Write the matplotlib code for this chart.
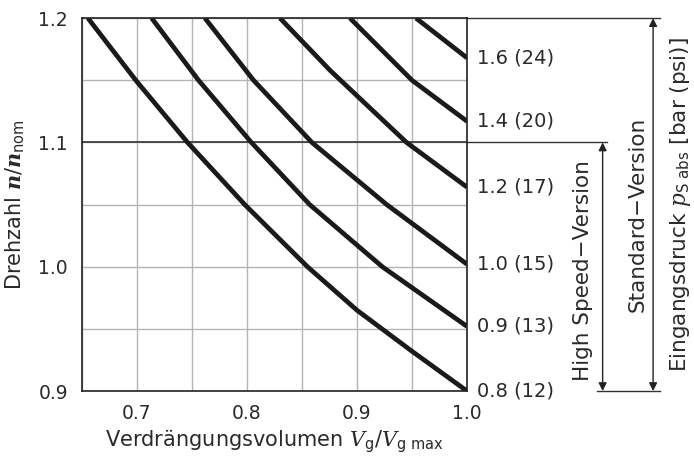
import matplotlib.pyplot as plt
import matplotlib.transforms as mtransforms

plt.rcParams['font.family'] = ['DejaVu Sans']
plt.rcParams['mathtext.fontset'] = 'custom'
plt.rcParams['mathtext.rm'] = 'DejaVu Sans'
plt.rcParams['mathtext.it'] = 'DejaVu Serif:italic'
plt.rcParams['mathtext.bf'] = 'DejaVu Serif:italic:bold'

# Curves: Vg/Vg_max -> n/n_nom, one per inlet pressure
labels = ['0.8 (12)', '0.9 (13)', '1.0 (15)', '1.2 (17)', '1.4 (20)', '1.6 (24)']
curve_x = [
    [0.6555, 0.699, 0.746, 0.798, 0.855, 0.900, 0.950, 1.0],
    [0.7134, 0.756, 0.804, 0.857, 0.923, 1.0],
    [0.7618, 0.806, 0.859, 0.927, 1.0],
    [0.830, 0.8755, 0.945, 1.0],
    [0.8936, 0.950, 1.0],
    [0.9536, 1.0],
]
curve_y = [
    [1.2, 1.15, 1.1, 1.05, 1.0, 0.965, 0.932, 0.9],
    [1.2, 1.15, 1.1, 1.05, 1.0, 0.952],
    [1.2, 1.15, 1.1, 1.05, 1.002],
    [1.2, 1.158, 1.1, 1.064],
    [1.2, 1.15, 1.117],
    [1.2, 1.168],
]
x_ticks = [0.65, 0.7, 0.75, 0.8, 0.85, 0.9, 0.95, 1.0]
x_ticklabels = ['', '0.7', '', '0.8', '', '0.9', '', '1.0']
y_ticks = [0.9, 0.95, 1.0, 1.05, 1.1, 1.15, 1.2]
y_ticklabels = ['0.9', '', '1.0', '', '1.1', '', '1.2']

fig = plt.figure(figsize=(6.94, 4.65), dpi=100)
ax = fig.add_axes([0.118, 0.159, 0.555, 0.802])

txt = '#2a2a2a'
ax.set_xlim(0.65, 1.0)
ax.set_ylim(0.9, 1.2)
ax.set_xticks(x_ticks)
ax.set_xticklabels(x_ticklabels)
ax.set_yticks(y_ticks)
ax.set_yticklabels(y_ticklabels)
ax.tick_params(length=0, labelsize=13.5, colors=txt)
ax.tick_params(axis='x', pad=9)
ax.tick_params(axis='y', pad=10)
ax.grid(True, color='#b4b4b4', lw=1.0)
ax.set_axisbelow(True)
for s in ax.spines.values():
    s.set_color('#222222')
    s.set_linewidth(1.2)
ax.axhline(1.1, color='#333333', lw=1.2)

for xs, ys in zip(curve_x, curve_y):
    ax.plot(xs, ys, color='#1a1a1a', lw=3.4, solid_capstyle='butt',
            solid_joinstyle='round')

trans = mtransforms.blended_transform_factory(ax.transAxes, ax.transData)
for ys, lab in zip(curve_y, labels):
    ax.text(1.026, ys[-1], lab, transform=trans, ha='left', va='center',
            fontsize=14, color=txt)

# lines and arrows on the right
ax.plot([1.0, 1.364], [1.1, 1.1], transform=trans, color='#333333', lw=1.0, clip_on=False)
ax.plot([1.0, 1.501], [1.2, 1.2], transform=trans, color='#333333', lw=1.0, clip_on=False)
ax.plot([1.338, 1.501], [0.9, 0.9], transform=trans, color='#333333', lw=1.0, clip_on=False)
for xa, ytop in [(1.352, 1.1), (1.483, 1.2)]:
    ax.annotate('', xy=(xa, ytop), xytext=(xa, 0.9), xycoords=trans, textcoords=trans,
                arrowprops=dict(arrowstyle='<|-|>', color='#222222', lw=1.0,
                                mutation_scale=12, shrinkA=0, shrinkB=0))
ax.text(1.301, 0.997, 'High Speed\u2212Version', transform=trans, rotation=90,
        ha='center', va='center', fontsize=15.5, color=txt)
ax.text(1.4416, 1.042, 'Standard\u2212Version', transform=trans, rotation=90,
        ha='center', va='center', fontsize=15.5, color=txt)
ax.text(1.553, 1.05, r'Eingangsdruck $\mathit{p}_{\mathrm{S\ abs}}$ [bar (psi)]',
        transform=trans, rotation=90, ha='center', va='center', fontsize=15.5, color=txt)

ax.set_xlabel(r'Verdrängungsvolumen $\mathit{V}_{\mathrm{g}}/\mathit{V}_{\mathrm{g\ max}}$',
              fontsize=15, color=txt, labelpad=4)
ax.set_ylabel(r'Drehzahl $\mathbf{n}/\mathbf{n}_{\mathrm{nom}}$',
              fontsize=15, color=txt, labelpad=8)

fig.savefig('out.png', dpi=100)
